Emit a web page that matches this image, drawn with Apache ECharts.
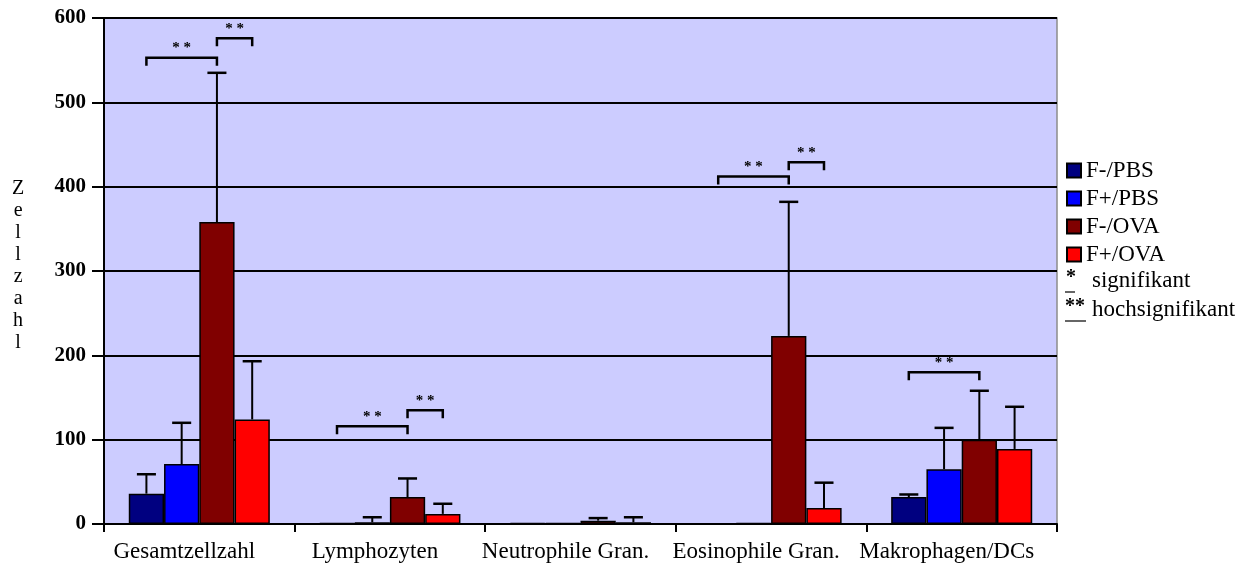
<!DOCTYPE html>
<html>
<head>
<meta charset="utf-8">
<script src="https://cdn.jsdelivr.net/npm/echarts@6/dist/echarts.min.js"></script>
<style>
  html, body { margin: 0; padding: 0; background: #ffffff; }
  #chart { width: 1256px; height: 568px; }
</style>
</head>
<body>
<div id="chart"></div>
<script>
// Zellzahlen je Zellpopulation (Mittelwert und Standardabweichung)
const categories = ['Gesamtzellzahl', 'Lymphozyten', 'Neutrophile Gran.', 'Eosinophile Gran.', 'Makrophagen/DCs'];
const groupNames = ['F-/PBS', 'F+/PBS', 'F-/OVA', 'F+/OVA'];
const groupColors = ['#000080', '#0000ff', '#800000', '#ff0000'];

const meanFminusPBS = [36, 1, 1, 0, 32];
const sdFminusPBS   = [23, 0, 0, 0, 3];
const meanFplusPBS  = [71, 2, 1, 1, 65];
const sdFplusPBS    = [49, 6, 0, 0, 49];
const meanFminusOVA = [358, 32, 4, 223, 100];
const sdFminusOVA   = [177, 22, 3, 159, 58];
const meanFplusOVA  = [124, 12, 2, 19, 89];
const sdFplusOVA    = [69, 12, 6, 30, 50];

const yTicks = [0, 100, 200, 300, 400, 500, 600];

// Signifikanzklammern: [Kategorie, von Balken, bis Balken, Höhe, Markierung]
const brackets = [
  [0, 0, 2, 553, '**'],
  [0, 2, 3, 576, '**'],
  [1, 0, 2, 116, '**'],
  [1, 2, 3, 135, '**'],
  [3, 0, 2, 412, '**'],
  [3, 2, 3, 429, '**'],
  [4, 0, 2, 180, '**']
];

const means = [meanFminusPBS, meanFplusPBS, meanFminusOVA, meanFplusOVA];
const sds = [sdFminusPBS, sdFplusPBS, sdFminusOVA, sdFplusOVA];

const serif = '"Liberation Serif", "Times New Roman", serif';
const BAR_GAP_CAT = 0.26;            // barCategoryGap
const BAR_FRAC = (1 - BAR_GAP_CAT) / 4;

function barCenter(api, catIdx, barIdx) {
  const c = api.coord([catIdx, 0])[0];
  const band = api.size([1, 0])[0];
  return c + (barIdx - 1.5) * band * BAR_FRAC;
}

// Fehlerbalken-Daten: [Kategorie, Balken, Mittelwert, SD]
const errData = [];
means.forEach((m, b) => m.forEach((v, i) => errData.push([i, b, v, sds[b][i]])));

const barSeries = groupNames.map((name, b) => ({
  name: name,
  type: 'bar',
  data: means[b],
  barGap: '0%',
  barCategoryGap: (BAR_GAP_CAT * 100) + '%',
  itemStyle: { color: groupColors[b], borderColor: '#000', borderWidth: 1.5 },
  z: 3
}));

const errorSeries = {
  type: 'custom',
  data: errData,
  z: 2,
  silent: true,
  renderItem: function (params, api) {
    const cat = api.value(0), b = api.value(1), m = api.value(2), sd = api.value(3);
    if (sd <= 0) return null;
    const x = barCenter(api, cat, b);
    const y0 = api.coord([cat, m])[1];
    const y1 = api.coord([cat, m + sd])[1];
    const capHalf = api.size([1, 0])[0] * BAR_FRAC * 0.27;
    return {
      type: 'group',
      children: [
        { type: 'line', shape: { x1: x, y1: y0, x2: x, y2: y1 }, style: { stroke: '#000', lineWidth: 2 } },
        { type: 'line', shape: { x1: x - capHalf, y1: y1, x2: x + capHalf, y2: y1 }, style: { stroke: '#000', lineWidth: 2.5 } }
      ]
    };
  }
};

const bracketSeries = {
  type: 'custom',
  data: brackets,
  z: 4,
  silent: true,
  renderItem: function (params, api) {
    const cat = api.value(0), from = api.value(1), to = api.value(2), h = api.value(3);
    const label = brackets[params.dataIndex][4];
    const xa = barCenter(api, cat, from);
    const xb = barCenter(api, cat, to);
    const y = api.coord([cat, h])[1];
    return {
      type: 'group',
      children: [
        { type: 'polyline', shape: { points: [[xa, y + 8], [xa, y], [xb, y], [xb, y + 8]] },
          style: { stroke: '#000', lineWidth: 2.5, fill: null } },
        { type: 'text', x: (xa + xb) / 2, y: y - 2,
          style: { text: label.split('').join(' '), fill: '#000', font: 'bold 15px ' + serif, textAlign: 'center', textVerticalAlign: 'bottom' } }
      ]
    };
  }
};

const chart = echarts.init(document.getElementById('chart'));
chart.setOption({
  animation: false,
  backgroundColor: '#ffffff',
  grid: {
    left: 104, right: 199, top: 18, bottom: 44,
    show: true, backgroundColor: '#ccccff', borderColor: '#8c8c8c', borderWidth: 1.5
  },
  legend: {
    data: groupNames,
    orient: 'vertical',
    left: 1066, top: 159, padding: 0,
    itemWidth: 14, itemHeight: 14, itemGap: 5,
    icon: 'rect',
    textStyle: { fontFamily: serif, fontSize: 23, lineHeight: 22, color: '#000' }
  },
  xAxis: {
    type: 'category',
    data: categories,
    axisLine: { lineStyle: { color: '#000', width: 2 } },
    axisTick: { show: true, length: 8, lineStyle: { color: '#000', width: 2 } },
    axisLabel: { interval: 0, color: '#000', fontFamily: serif, fontSize: 23, margin: 16, padding: [0, 30, 0, 0] }
  },
  yAxis: {
    type: 'value',
    min: yTicks[0], max: yTicks[yTicks.length - 1], interval: 100,
    axisLine: { show: true, lineStyle: { color: '#000', width: 2 } },
    axisTick: { show: true, length: 12, lineStyle: { color: '#000', width: 2 } },
    splitLine: { show: true, lineStyle: { color: '#000', width: 2 } },
    axisLabel: { color: '#000', fontFamily: serif, fontSize: 21, fontWeight: 'bold', margin: 18 }
  },
  graphic: [
    { type: 'text', left: 12, top: 178,
      style: { text: 'Z\ne\nl\nl\nz\na\nh\nl', fill: '#000', font: '20px ' + serif, lineHeight: 22, textAlign: 'center' } },
    { type: 'text', left: 1066, top: 268,
      style: { text: '*', fill: '#000', font: 'bold 20px ' + serif } },
    { type: 'line', shape: { x1: 1065, y1: 292, x2: 1075, y2: 292 }, style: { stroke: '#000', lineWidth: 1.2 } },
    { type: 'text', left: 1092, top: 269,
      style: { text: 'signifikant', fill: '#000', font: '23px ' + serif } },
    { type: 'text', left: 1065, top: 297,
      style: { text: '**', fill: '#000', font: 'bold 20px ' + serif } },
    { type: 'line', shape: { x1: 1065, y1: 321, x2: 1086, y2: 321 }, style: { stroke: '#000', lineWidth: 1.2 } },
    { type: 'text', left: 1092, top: 298,
      style: { text: 'hochsignifikant', fill: '#000', font: '23px ' + serif } }
  ],
  series: barSeries.concat([errorSeries, bracketSeries])
});
</script>
</body>
</html>
